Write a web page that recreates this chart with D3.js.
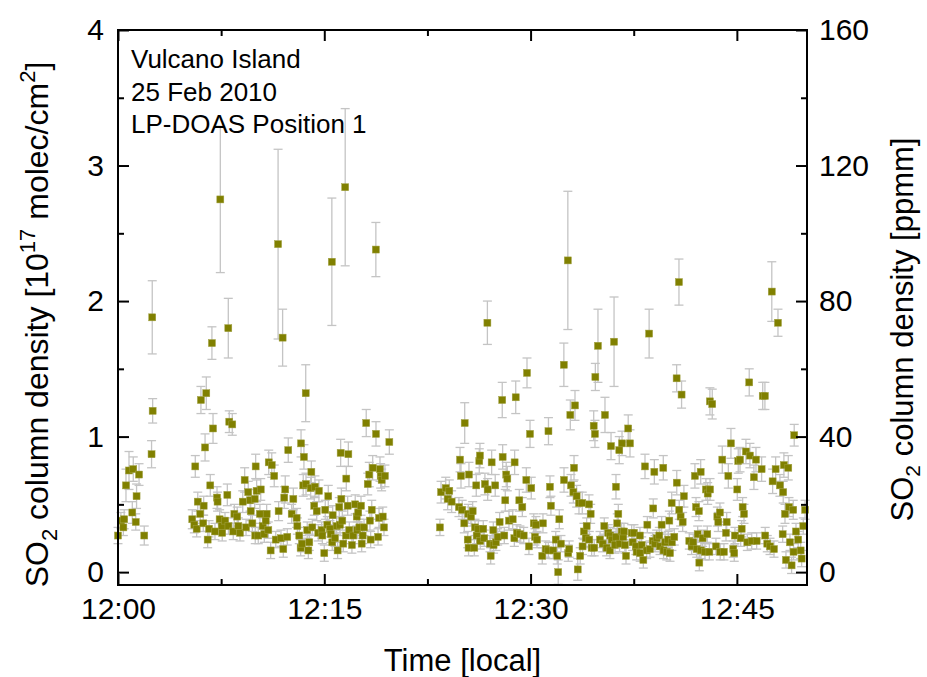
<!DOCTYPE html>
<html>
<head>
<meta charset="utf-8">
<script src="https://cdn.jsdelivr.net/npm/d3@7"></script>
<style>
  body { margin: 0; background: #fff; }
  text { font-family: "Liberation Sans", Arial, sans-serif; fill: #000; }
</style>
</head>
<body>
<div id="chart"></div>
<script>
// [minutes after 12:00, SO2 column density (1e17 molec/cm2), error]
const run1 = [
  [0.00,0.27,0.06],[0.21,0.38,0.06],[0.39,0.33,0.06],[0.45,0.39,0.07],[0.58,0.64,0.12],[0.80,0.75,0.14],
  [1.04,0.44,0.08],[1.11,0.76,0.09],[1.29,0.37,0.06],[1.35,0.56,0.09],[1.53,0.72,0.08],[1.91,0.27,0.07],
  [2.44,0.87,0.10],[2.49,1.88,0.27],[2.52,1.19,0.09]
];
const run2 = [
  [5.40,0.39,0.07],[5.55,0.35,0.06],[5.62,0.78,0.08],[5.72,0.32,0.06],[5.80,0.52,0.07],[5.98,0.43,0.07],
  [6.03,1.27,0.10],[6.20,0.36,0.06],[6.23,0.49,0.07],[6.33,0.92,0.10],[6.42,1.32,0.12],[6.52,0.24,0.06],
  [6.62,0.32,0.06],[6.71,0.64,0.08],[6.83,1.69,0.12],[6.91,1.06,0.11],[7.05,0.30,0.06],[7.20,0.55,0.08],
  [7.24,0.52,0.07],[7.39,0.39,0.07],[7.44,2.75,0.54],[7.54,0.34,0.06],[7.58,0.29,0.06],[7.78,0.38,0.06],
  [7.95,0.57,0.08],[8.02,1.80,0.22],[8.03,0.34,0.06],[8.09,1.11,0.08],[8.31,1.09,0.08],[8.38,0.30,0.06],
  [8.46,0.43,0.07],[8.67,0.41,0.07],[8.75,0.34,0.06],[8.87,0.29,0.06],[9.07,0.52,0.08],[9.21,0.68,0.09],
  [9.31,0.33,0.06],[9.47,0.59,0.08],[9.60,0.53,0.08],[9.65,0.45,0.07],[9.77,0.36,0.06],[9.94,0.54,0.07],
  [9.98,0.27,0.06],[10.01,0.78,0.09],[10.08,0.60,0.08],[10.20,0.27,0.06],[10.32,0.43,0.07],[10.38,0.61,0.08],
  [10.52,0.34,0.06],[10.64,0.28,0.06],[10.74,0.38,0.07],[10.81,0.43,0.07],[10.93,0.31,0.06],[10.96,0.81,0.09],
  [11.10,0.16,0.06],[11.18,0.79,0.09],[11.36,0.71,0.08],[11.47,0.24,0.06],[11.64,2.42,0.70],[11.68,0.45,0.07],
  [11.85,0.25,0.06],[11.97,1.73,0.21],[12.02,0.17,0.06],[12.09,0.55,0.08],[12.16,0.61,0.10],[12.31,0.26,0.06],
  [12.38,0.90,0.09],[12.63,0.43,0.07],[12.75,0.54,0.08],[12.99,0.40,0.07],[13.04,0.34,0.06],[13.18,0.27,0.06],
  [13.28,0.18,0.06],[13.31,0.95,0.10],[13.38,0.21,0.06],[13.47,0.64,0.08],[13.52,0.85,0.09],[13.65,1.32,0.21],
  [13.67,0.65,0.08],[13.76,0.31,0.06],[13.84,0.16,0.06],[13.91,0.22,0.06],[14.01,0.62,0.08],[14.06,0.74,0.08],
  [14.13,0.33,0.06],[14.27,0.49,0.07],[14.32,0.63,0.08],[14.45,0.45,0.07],[14.56,0.29,0.06],[14.61,0.60,0.08],
  [14.81,0.31,0.06],[14.86,0.27,0.06],[15.00,0.14,0.06],[15.07,0.46,0.07],[15.22,0.35,0.06],[15.29,0.56,0.08],
  [15.41,0.32,0.06],[15.47,0.28,0.06],[15.55,2.29,0.47],[15.58,0.22,0.06],[15.61,0.42,0.07],[15.78,0.25,0.06],
  [15.90,0.34,0.06],[15.97,0.16,0.06],[16.09,0.48,0.07],[16.14,0.35,0.06],[16.19,0.88,0.10],[16.24,0.54,0.08],
  [16.31,0.38,0.07],[16.38,0.21,0.06],[16.52,2.84,0.58],[16.58,0.27,0.06],[16.60,0.69,0.09],[16.70,0.49,0.07],
  [16.75,0.87,0.09],[16.82,0.31,0.06],[17.01,0.20,0.06],[17.11,0.27,0.06],[17.25,0.50,0.07],[17.36,0.41,0.07],
  [17.40,0.31,0.06],[17.47,0.44,0.07],[17.55,0.33,0.06],[17.67,0.49,0.07],[17.72,0.21,0.06],[17.79,0.27,0.06],
  [17.89,0.33,0.06],[18.05,1.10,0.10],[18.16,0.65,0.08],[18.27,0.72,0.09],[18.32,0.38,0.07],[18.37,0.24,0.06],
  [18.45,0.46,0.07],[18.52,0.77,0.09],[18.75,2.38,0.20],[18.76,1.02,0.09],[18.91,0.26,0.06],[18.98,0.40,0.07],
  [19.05,0.76,0.09],[19.10,0.71,0.09],[19.17,0.68,0.08],[19.25,0.41,0.07],[19.34,0.33,0.06],[19.41,0.71,0.08],
  [19.73,0.96,0.09]
];
const run3 = [
  [23.41,0.33,0.06],[23.49,0.59,0.08],[23.83,0.62,0.08],[23.97,0.54,0.08],[24.09,0.60,0.08],[24.26,0.52,0.08],
  [24.79,0.48,0.07],[24.87,0.83,0.09],[24.94,0.71,0.09],[25.03,0.46,0.07],[25.18,0.36,0.07],[25.21,1.10,0.15],
  [25.43,0.24,0.06],[25.47,0.43,0.07],[25.49,0.18,0.06],[25.52,0.72,0.09],[25.67,0.41,0.07],[25.79,0.45,0.07],
  [25.91,0.18,0.06],[25.96,0.33,0.06],[26.05,0.64,0.08],[26.08,0.27,0.06],[26.20,0.32,0.06],[26.27,0.82,0.09],
  [26.32,0.86,0.09],[26.34,0.23,0.06],[26.56,0.32,0.06],[26.63,0.25,0.06],[26.68,0.65,0.08],[26.86,1.84,0.16],
  [26.88,0.61,0.08],[27.05,0.21,0.06],[27.10,0.12,0.06],[27.17,0.81,0.09],[27.29,0.31,0.06],[27.31,0.20,0.06],
  [27.43,0.64,0.08],[27.48,0.22,0.06],[27.61,0.26,0.06],[27.75,0.37,0.07],[27.94,1.27,0.13],[27.97,0.85,0.09],
  [28.09,0.27,0.06],[28.16,0.53,0.08],[28.23,0.72,0.09],[28.31,0.69,0.09],[28.43,0.38,0.07],[28.70,0.39,0.07],
  [28.82,0.25,0.06],[28.84,0.81,0.09],[28.92,1.29,0.12],[29.01,0.29,0.06],[29.18,0.53,0.08],[29.23,0.28,0.06],
  [29.40,0.48,0.07],[29.50,0.27,0.06],[29.69,0.68,0.09],[29.74,1.47,0.11],[29.88,0.19,0.06],[29.96,1.02,0.10],
  [30.05,0.62,0.08],[30.23,0.36,0.07],[30.32,0.26,0.06],[30.39,0.35,0.06],[30.47,0.24,0.06],[30.85,0.12,0.06],
  [30.90,0.36,0.07],[31.10,0.17,0.06],[31.29,0.16,0.06],[31.30,1.04,0.10],[31.41,0.63,0.08],[31.48,0.49,0.07],
  [31.65,0.16,0.06],[31.83,0.24,0.06],[31.94,0.12,0.06],[32.01,0.00,0.09],[32.09,0.39,0.07],[32.21,0.21,0.06],
  [32.42,1.53,0.16],[32.43,0.68,0.09],[32.71,2.30,0.51],[32.74,0.14,0.06],[32.81,0.17,0.06],[32.89,1.16,0.11],
  [32.94,0.64,0.08],[33.11,0.59,0.08],[33.16,0.77,0.09],[33.23,1.23,0.11],[33.35,0.56,0.08],[33.43,0.02,0.08],
  [33.52,0.51,0.08],[33.61,0.12,0.06],[33.76,0.51,0.08],[33.78,0.19,0.06],[33.88,0.30,0.06],[34.01,0.25,0.06],
  [34.08,0.34,0.06],[34.25,0.50,0.07],[34.27,0.24,0.06],[34.37,0.43,0.07],[34.44,0.18,0.06],[34.59,1.08,0.11],
  [34.63,0.18,0.06],[34.68,1.02,0.10],[34.71,1.44,0.10],[34.90,1.67,0.27],[35.05,0.24,0.06],[35.24,0.21,0.06],
  [35.36,0.34,0.06],[35.41,1.16,0.13],[35.53,0.18,0.06],[35.65,0.29,0.06],[35.77,0.16,0.06],[35.79,0.27,0.06],
  [35.85,0.93,0.10],[35.90,0.24,0.06],[36.07,1.70,0.33],[36.14,0.20,0.06],[36.21,0.63,0.09],[36.22,0.26,0.06],
  [36.30,0.36,0.07],[36.38,0.43,0.07],[36.45,0.90,0.10],[36.47,0.21,0.06],[36.62,0.30,0.06],[36.65,0.95,0.09],
  [36.74,0.26,0.06],[36.79,0.30,0.06],[36.86,0.20,0.06],[36.94,0.12,0.06],[37.10,1.06,0.10],[37.23,0.95,0.10],
  [37.35,0.29,0.06],[37.42,0.22,0.06],[37.52,0.29,0.06],[37.66,0.19,0.06],[37.71,0.15,0.06],[37.95,0.27,0.06],
  [37.97,0.14,0.06],[38.08,0.20,0.06],[38.20,0.09,0.06],[38.32,0.78,0.09],[38.44,0.16,0.06],[38.49,0.35,0.06],
  [38.62,1.76,0.18],[38.68,0.17,0.06],[38.88,0.23,0.06],[38.92,0.47,0.07],[39.00,0.74,0.09],[39.05,0.21,0.06],
  [39.17,0.25,0.06],[39.36,0.27,0.06],[39.41,0.19,0.06],[39.53,0.35,0.06],[39.65,0.77,0.09],[39.67,0.16,0.06],
  [39.78,0.22,0.06],[39.90,0.15,0.06],[40.01,0.24,0.06],[40.09,0.38,0.07],[40.14,0.14,0.06],[40.26,0.51,0.08],
  [40.28,0.22,0.06],[40.45,0.26,0.06],[40.62,1.43,0.10],[40.63,0.66,0.09],[40.79,2.14,0.17],[40.81,0.46,0.07],
  [40.91,0.41,0.07],[40.98,1.31,0.10],[41.06,0.37,0.07],[41.15,0.56,0.08],[41.54,0.23,0.06],[41.71,0.19,0.06],
  [41.83,0.22,0.06],[41.95,0.71,0.09],[42.03,0.48,0.07],[42.08,0.17,0.06],[42.15,0.28,0.06],[42.24,0.45,0.07],
  [42.27,0.07,0.06],[42.37,0.74,0.09],[42.39,0.16,0.06],[42.51,0.25,0.06],[42.68,0.15,0.06],[42.75,0.61,0.08],
  [42.85,0.28,0.06],[42.88,0.58,0.08],[43.00,0.15,0.06],[43.04,1.26,0.10],[43.05,0.61,0.08],[43.21,1.24,0.11],
  [43.48,0.19,0.06],[43.58,0.41,0.07],[43.65,0.37,0.07],[43.77,0.44,0.07],[43.79,0.15,0.06],[43.94,0.83,0.10],
  [44.06,0.15,0.06],[44.21,0.29,0.06],[44.26,0.37,0.07],[44.38,0.71,0.09],[44.57,0.95,0.11],[44.74,0.17,0.06],
  [44.81,0.14,0.06],[44.86,0.27,0.06],[45.03,0.61,0.08],[45.10,0.82,0.09],[45.23,0.83,0.09],[45.28,0.25,0.06],
  [45.35,0.32,0.06],[45.42,0.48,0.07],[45.52,0.43,0.07],[45.66,0.89,0.09],[45.76,0.22,0.06],[45.90,1.40,0.10],
  [45.95,0.86,0.09],[46.08,0.23,0.06],[46.24,0.70,0.09],[46.39,0.83,0.09],[46.44,0.23,0.06],[46.80,0.76,0.09],
  [46.88,1.30,0.10],[47.04,1.30,0.10],[47.06,0.27,0.06],[47.21,0.21,0.06],[47.41,0.19,0.06],[47.54,2.07,0.22],
  [47.60,0.67,0.09],[47.70,0.17,0.06],[47.82,0.76,0.09],[47.99,1.84,0.10],[48.13,0.64,0.08],[48.33,0.28,0.06],
  [48.37,0.59,0.08],[48.42,0.79,0.09],[48.50,0.43,0.07],[48.57,0.09,0.06],[48.74,0.77,0.09],[48.79,0.48,0.07],
  [48.86,0.22,0.06],[48.98,0.05,0.06],[49.10,0.46,0.07],[49.12,0.15,0.06],[49.17,1.01,0.08],[49.30,0.30,0.06],
  [49.46,0.24,0.06],[49.64,0.16,0.06],[49.71,0.10,0.06],[49.83,0.34,0.06],[49.96,0.46,0.07]
];

const xMajor = [0, 15, 30, 45];
const xMinor = [7.5, 22.5, 37.5];
const yLeftMajor = [0, 1, 2, 3, 4];
const yLeftMinor = [0.5, 1.5, 2.5, 3.5];
const yRightMajor = [0, 40, 80, 120, 160];
const yRightMinor = [20, 60, 100, 140];
const infoLines = ['Vulcano Island', '25 Feb 2010', 'LP-DOAS Position 1'];

const W = 927, H = 677;
const L = 118, R = 807, T = 30, B = 585;

const svg = d3.select('#chart').append('svg')
    .attr('width', W)
    .attr('height', H);

const x = d3.scaleLinear().domain([0, 50.1]).range([L, R]);
const y = d3.scaleLinear().domain([-0.095, 4]).range([B, T]);
const y2 = d3.scaleLinear().domain([-3.8, 160]).range([B, T]);

const samples = run1.concat(run2, run3);

// error bars
const eb = svg.append('g')
    .attr('stroke', '#c4c4c4')
    .attr('stroke-width', 1.3)
    .attr('fill', 'none');

samples.forEach(d => {
    const cx = x(d[0]);
    const top = y(d[1] + d[2]), bot = y(d[1] - d[2]);
    eb.append('line').attr('x1', cx).attr('x2', cx).attr('y1', top).attr('y2', bot);
    eb.append('line').attr('x1', cx - 4.5).attr('x2', cx + 4.5).attr('y1', top).attr('y2', top);
    eb.append('line').attr('x1', cx - 4.5).attr('x2', cx + 4.5).attr('y1', bot).attr('y2', bot);
});

// markers
svg.append('g')
    .selectAll('rect')
    .data(samples)
    .enter()
    .append('rect')
    .attr('x', d => x(d[0]) - 3.5)
    .attr('y', d => y(d[1]) - 3.5)
    .attr('width', 7)
    .attr('height', 7)
    .attr('fill', '#808000')
    .attr('stroke', '#a0a040')
    .attr('stroke-width', 0.5);

// axes (ticks pointing inward)
const fmt = m => '12:' + d3.format('02d')(m);
function styleAxis(g) {
    g.select('.domain').remove();
    g.selectAll('line').attr('stroke', '#000').attr('stroke-width', 2);
    g.selectAll('text').style('font-size', '30px').style('font-family', '"Liberation Sans", Arial, sans-serif');
}

svg.append('g').attr('transform', `translate(0,${B})`)
    .call(d3.axisBottom(x).tickValues(xMajor).tickFormat(fmt).tickSize(-11).tickPadding(13))
    .call(styleAxis);
svg.append('g').attr('transform', `translate(0,${B})`)
    .call(d3.axisBottom(x).tickValues(xMinor).tickFormat('').tickSize(-6))
    .call(styleAxis);
svg.append('g').attr('transform', `translate(0,${T})`)
    .call(d3.axisTop(x).tickValues(xMajor).tickFormat('').tickSize(-11))
    .call(styleAxis);
svg.append('g').attr('transform', `translate(0,${T})`)
    .call(d3.axisTop(x).tickValues(xMinor).tickFormat('').tickSize(-6))
    .call(styleAxis);

svg.append('g').attr('transform', `translate(${L},0)`)
    .call(d3.axisLeft(y).tickValues(yLeftMajor).tickFormat(d3.format('d')).tickSize(-11).tickPadding(14))
    .call(styleAxis);
svg.append('g').attr('transform', `translate(${L},0)`)
    .call(d3.axisLeft(y).tickValues(yLeftMinor).tickFormat('').tickSize(-6))
    .call(styleAxis);
svg.append('g').attr('transform', `translate(${R},0)`)
    .call(d3.axisRight(y2).tickValues(yRightMajor).tickFormat(d3.format('d')).tickSize(-11).tickPadding(12))
    .call(styleAxis);
svg.append('g').attr('transform', `translate(${R},0)`)
    .call(d3.axisRight(y2).tickValues(yRightMinor).tickFormat('').tickSize(-6))
    .call(styleAxis);

// frame
svg.append('rect')
    .attr('x', L).attr('y', T)
    .attr('width', R - L).attr('height', B - T)
    .attr('fill', 'none')
    .attr('stroke', '#000')
    .attr('stroke-width', 2);

// info text
svg.append('g').selectAll('text')
    .data(infoLines)
    .enter()
    .append('text')
    .attr('x', 131)
    .attr('y', (d, i) => 68 + i * 32.5)
    .style('font-size', '26px')
    .text(d => d);

// axis titles
svg.append('text')
    .attr('x', (L + R) / 2)
    .attr('y', 671)
    .attr('text-anchor', 'middle')
    .style('font-size', '31px')
    .text('Time [local]');

const leftTitle = svg.append('text')
    .attr('transform', `translate(48,${(T + B) / 2 + 17}) rotate(-90)`)
    .attr('text-anchor', 'middle')
    .style('font-size', '32px');
leftTitle.append('tspan').text('SO');
leftTitle.append('tspan').attr('dy', 9).style('font-size', '22px').text('2');
leftTitle.append('tspan').attr('dy', -9).text(' column density [10');
leftTitle.append('tspan').attr('dy', -13).style('font-size', '22px').text('17');
leftTitle.append('tspan').attr('dy', 13).text(' molec/cm');
leftTitle.append('tspan').attr('dy', -13).style('font-size', '22px').text('2');
leftTitle.append('tspan').attr('dy', 13).text(']');

const rightTitle = svg.append('text')
    .attr('transform', `translate(913,${(T + B) / 2 + 22}) rotate(-90)`)
    .attr('text-anchor', 'middle')
    .style('font-size', '31px');
rightTitle.append('tspan').text('SO');
rightTitle.append('tspan').attr('dy', 7).style('font-size', '21px').text('2');
rightTitle.append('tspan').attr('dy', -7).text(' column density [ppmm]');
</script>
</body>
</html>
